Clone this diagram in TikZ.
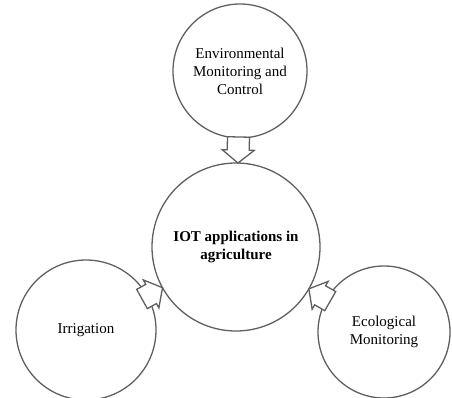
\documentclass[tikz,border=0pt]{standalone}
\usepackage{fontspec}
\setmainfont{Liberation Serif}
\usetikzlibrary{calc}
\definecolor{linegray}{RGB}{95,95,95}
\tikzset{
  bubble/.style={circle, draw=linegray, line width=1.3pt, inner sep=0pt, outer sep=0pt,
    align=center, text=black, font=\fontsize{15}{18}\selectfont},
  blockarr/.style={draw=linegray, line width=1.3pt, fill=white, line join=miter},
}
% #1 source node, #2 target node, #3 distance from source centre, #4 distance from target centre
\newcommand{\blockarrowdraw}[4]{%
  \coordinate (S) at ($(#1.center)!#3!(#2.center)$);
  \coordinate (T) at ($(#2.center)!#4!(#1.center)$);
  \coordinate (H) at ($(T)!13pt!(S)$);
  \draw[blockarr] ($(S)!11pt!90:(T)$) -- ($(H)!11pt!90:(T)$) -- ($(H)!16pt!90:(T)$) -- (T)
    -- ($(H)!16pt!-90:(T)$) -- ($(H)!11pt!-90:(T)$) -- ($(S)!11pt!-90:(T)$) -- cycle;
}
\begin{document}
\begin{tikzpicture}[x=1pt,y=-1pt]
  \useasboundingbox (0,0) rectangle (452,398);
  \node[bubble, minimum size=134pt] (env) at (240,71) {Environmental\\Monitoring and\\Control};
  \node[bubble, minimum size=168pt, font=\bfseries\fontsize{15}{18}\selectfont] (iot) at (236,247) {IOT applications in\\agriculture};
  \node[bubble, minimum size=140pt] (irr) at (86,330) {Irrigation};
  \node[bubble, minimum size=132pt] (eco) at (384,332) {Ecological\\Monitoring};
  \blockarrowdraw{env}{iot}{66pt}{84pt}
  \blockarrowdraw{irr}{iot}{64pt}{84pt}
  \blockarrowdraw{eco}{iot}{62pt}{84pt}
\end{tikzpicture}
\end{document}
